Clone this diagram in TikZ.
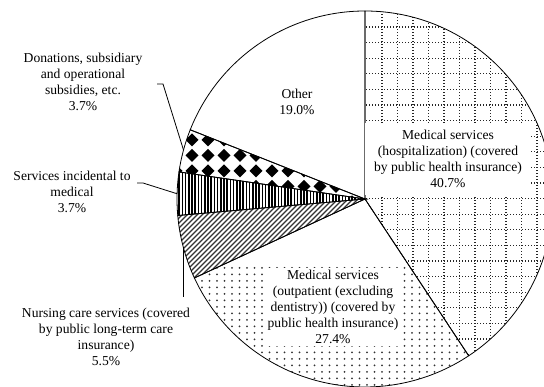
\documentclass[tikz,border=0pt]{standalone}
\usepackage{fontspec}
\setmainfont{Liberation Serif}
\usetikzlibrary{calc}

\newcommand{\rad}{188pt}

\begin{document}
\begin{tikzpicture}[x=1pt, y=1pt,
    slice/.style={draw, line width=0.8pt},
    lead/.style={line width=0.8pt},
    lbl/.style={align=center, font=\fontsize{13.6}{16}\selectfont, inner sep=2pt},
    boxed/.style={lbl, fill=white},
    gridline/.style={line width=1.3pt, black!85, dash pattern=on 1.4pt off 1.6pt},
    stripe/.style={line width=1.4pt, black!80},
    bar/.style={line width=1.7pt}]
  \useasboundingbox (0,0) rectangle (544,387);
  \clip (0,0) rectangle (544,387);
  \coordinate (pc) at (365,188);

  % hospitalization: dotted grid
  \begin{scope}
    \clip (pc) -- ++(90:\rad) arc[start angle=90, end angle=-56.52, radius=\rad] -- cycle;
    \foreach \gx in {382,397.5,...,560} \draw[gridline] (\gx,0) -- (\gx,387);
    \foreach \gy in {360,344.4,...,0} \draw[gridline] (360,\gy) -- (560,\gy);
  \end{scope}

  % outpatient: dots
  \begin{scope}
    \clip (pc) -- ++(-56.52:\rad) arc[start angle=-56.52, end angle=-155.16, radius=\rad] -- cycle;
    \foreach \dy in {2,8.5,...,120}
      \foreach \dx in {172,179.5,...,480}
        \fill[black!80] (\dx,\dy) circle (1pt);
  \end{scope}

  % nursing care: diagonal lines
  \begin{scope}
    \clip (pc) -- ++(-155.16:\rad) arc[start angle=-155.16, end angle=-174.96, radius=\rad] -- cycle;
    \foreach \s in {60,65,...,300} \draw[stripe] (\s,100) -- ++(100,100);
  \end{scope}

  % services incidental: vertical lines
  \begin{scope}
    \clip (pc) -- ++(-174.96:\rad) arc[start angle=-174.96, end angle=-188.28, radius=\rad] -- cycle;
    \foreach \bx in {176,179.2,...,366} \draw[bar] (\bx,150) -- (\bx,220);
  \end{scope}

  % donations: diamonds
  \begin{scope}
    \clip (pc) -- ++(-188.28:\rad) arc[start angle=-188.28, end angle=-201.6, radius=\rad] -- cycle;
    \foreach \my in {262.5,247,...,175}
      \foreach \mx in {160,176,...,370}
        \fill (\mx,\my) +(0,6.5) -- +(6.5,0) -- +(0,-6.5) -- +(-6.5,0) -- cycle;
  \end{scope}

  % outlines
  \foreach \a/\b in {90/-56.52, -56.52/-155.16, -155.16/-174.96, -174.96/-188.28, -188.28/-201.6, -201.6/-270}
    \draw[slice] (pc) -- ++(\a:\rad) arc[start angle=\a, end angle=\b, radius=\rad] -- cycle;

  % labels
  \node[lbl] (lblOther) at (297,285) {Other\\19.0\%};
  \node[boxed, inner xsep=9pt, inner ysep=7pt] (lblHosp) at (448,228) {Medical services\\(hospitalization) (covered\\by public health insurance)\\40.7\%};
  \node[boxed] (lblOut) at (333,80) {Medical services\\(outpatient (excluding\\dentistry)) (covered by\\public health insurance)\\27.4\%};
  \node[lbl] (lblNurse) at (106,50) {Nursing care services (covered\\by public long-term care\\insurance)\\5.5\%};
  \node[lbl] (lblServ) at (72,195) {Services incidental to\\medical\\3.7\%};
  \node[lbl] (lblDon) at (83,305) {Donations, subsidiary\\and operational\\subsidies, etc.\\3.7\%};

  % leader lines
  \path (pc) ++(164.9:\rad) coordinate (donArc);
  \coordinate (donKnee) at (163,303);
  \coordinate (donEnd) at (157,303);
  \draw[lead] (donArc) -- (donKnee) -- (donEnd);

  \path (pc) ++(178.4:\rad) coordinate (servArc);
  \coordinate (servKnee) at (143,204);
  \coordinate (servEnd) at (137,204);
  \draw[lead] (servArc) -- (servKnee) -- (servEnd);

  \path (pc) ++(-165.1:\rad) coordinate (nurseArc);
  \coordinate (nurseEnd) at ($(nurseArc)+(0,-50)$);
  \draw[lead] (nurseArc) -- (nurseEnd);
\end{tikzpicture}
\end{document}
